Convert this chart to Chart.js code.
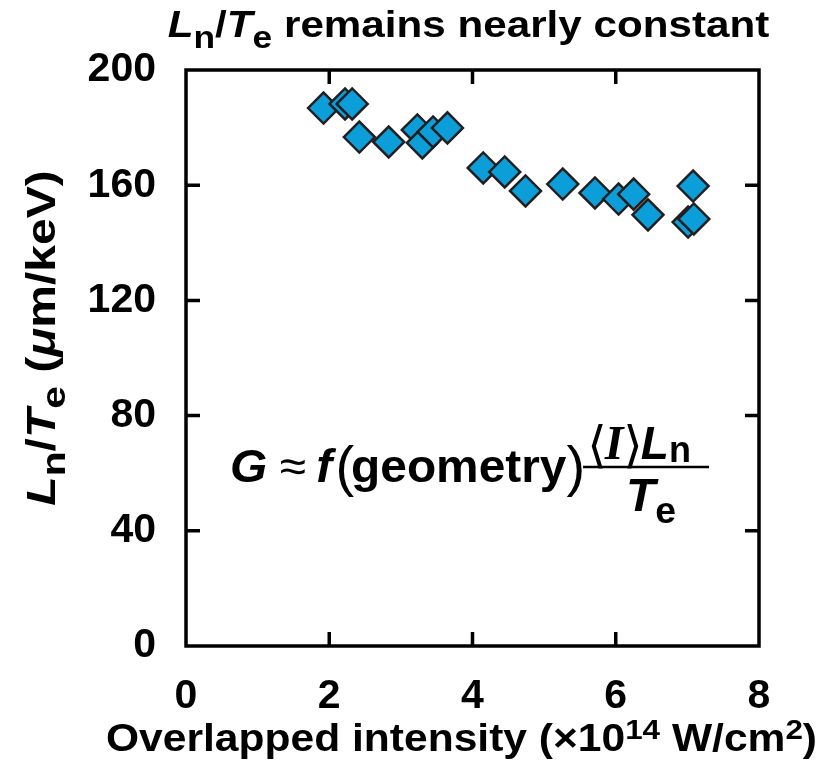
<!DOCTYPE html>
<html>
<head>
<meta charset="utf-8">
<script src="https://cdn.jsdelivr.net/npm/chart.js@4.4.1/dist/chart.umd.min.js"></script>
<style>
  body { margin: 0; background: #fff; }
  #wrap { width: 826px; height: 764px; }
</style>
</head>
<body>
<div id="wrap"><canvas id="chart" width="826" height="764"></canvas></div>
<script>
// overlapped intensity (x10^14 W/cm^2) and Ln/Te (um/keV)
const intensity = [1.92, 2.22, 2.32, 2.42, 2.83, 3.23, 3.30, 3.45, 3.65, 4.15, 4.45, 4.74, 5.26, 5.71, 6.04, 6.25, 6.45, 7.01, 7.09, 7.08];
const lnOverTe  = [186.8, 188.2, 188.2, 176.7, 175.0, 179.2, 174.7, 178.5, 179.9, 166.0, 164.6, 158.0, 160.4, 157.3, 155.2, 156.9, 149.7, 147.2, 148.3, 159.7];
const xRange = [0, 8], xStep = 2;
const yRange = [0, 200], yStep = 40;

const SANS = '"Liberation Sans", Arial, sans-serif';
const SERIF = '"Liberation Serif", "Times New Roman", serif';

// draws a row of [text, font, dy, extraGap] pieces
function drawRuns(ctx, runs, x, y, align, sx) {
    let w = 0;
    runs.forEach(r => { ctx.font = r[1]; w += ctx.measureText(r[0]).width + (r[3] || 0); });
    ctx.save();
    ctx.translate(x, y);
    ctx.scale(sx, 1);
    let cx = align === 'center' ? -w / 2 : (align === 'right' ? -w : 0);
    ctx.textBaseline = 'alphabetic';
    ctx.textAlign = 'left';
    runs.forEach(r => {
        ctx.font = r[1];
        ctx.fillText(r[0], cx, r[2] || 0);
        cx += ctx.measureText(r[0]).width + (r[3] || 0);
    });
    ctx.restore();
    return w * sx;
}

const decor = {
    id: 'decor',
    afterDraw(chart) {
        const ctx = chart.ctx, a = chart.chartArea;
        const xs = chart.scales.x, ys = chart.scales.y;
        ctx.save();
        ctx.fillStyle = '#000';
        ctx.strokeStyle = '#000';

        // frame + inward ticks
        ctx.lineWidth = 3.5;
        ctx.strokeRect(a.left, a.top, a.right - a.left, a.bottom - a.top);
        const tl = 14;
        ctx.beginPath();
        xs.ticks.forEach(t => {
            if (t.value <= xs.min || t.value >= xs.max) return;
            const px = xs.getPixelForValue(t.value);
            ctx.moveTo(px, a.bottom); ctx.lineTo(px, a.bottom - tl);
            ctx.moveTo(px, a.top); ctx.lineTo(px, a.top + tl);
        });
        ys.ticks.forEach(t => {
            if (t.value <= ys.min || t.value >= ys.max) return;
            const py = ys.getPixelForValue(t.value);
            ctx.moveTo(a.left, py); ctx.lineTo(a.left + tl, py);
            ctx.moveTo(a.right, py); ctx.lineTo(a.right - tl, py);
        });
        ctx.stroke();

        const b37 = 'bold 37px ' + SANS, bi37 = 'bold italic 37px ' + SANS, b31 = 'bold 31px ' + SANS;
        // title
        drawRuns(ctx, [
            ['L', bi37], ['n', b31, 11], ['/', b37], ['T', bi37], ['e', b31, 11],
            [' remains nearly constant', b37]
        ], (a.left + a.right) / 2 - 4, 37, 'center', 1.14);

        // x title
        const b38 = 'bold 38px ' + SANS, b28 = 'bold 28px ' + SANS;
        drawRuns(ctx, [
            ['Overlapped intensity (\u00d710', b38], ['14', b28, -12], [' W/cm', b38], ['2', b28, -12], [')', b38]
        ], (a.left + a.right) / 2 - 11, 751, 'center', 1.12);

        // y title
        const bi40 = 'bold italic 40px ' + SANS, b40 = 'bold 40px ' + SANS, b34 = 'bold 34px ' + SANS;
        ctx.save();
        ctx.translate(55, (a.top + a.bottom) / 2 - 20);
        ctx.rotate(-Math.PI / 2);
        drawRuns(ctx, [
            ['L', bi40], ['n', b34, 10], ['/', b40], ['T', bi40], ['e', b34, 10],
            [' (', b40], ['\u03bc', bi40], ['m/keV)', b40]
        ], 0, 0, 'center', 1.2);
        ctx.restore();

        // formula G ~ f(geometry) <I> Ln / Te
        const F = 46, fsx = 1.04;
        const bi = 'bold italic ' + F + 'px ' + SANS, bo = 'bold ' + F + 'px ' + SANS;
        const thin = 'normal ' + F + 'px ' + SANS, paren = 'normal 56px ' + SANS;
        const fx = a.left + 44, fy = a.top + 412;
        let cx = fx;
        cx += drawRuns(ctx, [['G', bi, 0, 12], ['\u2248', thin, 0, 10], ['f', bi, 0, 3]], cx, fy, 'left', fsx);
        cx += drawRuns(ctx, [['(', paren, 3, -3]], cx, fy, 'left', 1);
        cx += drawRuns(ctx, [['geometry', bo]], cx, fy, 'left', fsx);
        cx += drawRuns(ctx, [[')', paren, 3, -4]], cx, fy, 'left', 1);
        const barL = cx + 2, barR = cx + 128, barY = fy - 15;
        ctx.lineWidth = 2.5;
        ctx.beginPath(); ctx.moveTo(barL, barY); ctx.lineTo(barR, barY); ctx.stroke();
        const mid = (barL + barR) / 2;
        const ang = 'normal 50px "DejaVu Sans", ' + SANS;
        drawRuns(ctx, [
            ['\u27e8', ang, 3, -2], ['I', 'bold italic 48px ' + SERIF, 0, 0], ['\u27e9', ang, 3, -2],
            ['L', bi], ['n', 'bold 36px ' + SANS, 3]
        ], mid - 7, barY - 8, 'center', 1);
        drawRuns(ctx, [['T', bi], ['e', 'bold 36px ' + SANS, 12]], mid + 5, barY + 44, 'center', fsx);
        ctx.restore();
    }
};

const points = intensity.map((x, i) => ({ x: x, y: lnOverTe[i] }));

new Chart(document.getElementById('chart'), {
    type: 'scatter',
    data: {
        datasets: [{
            data: points,
            pointStyle: 'rectRot',
            pointRadius: 15.5,
            pointHoverRadius: 15.5,
            backgroundColor: '#0b9ed8',
            borderColor: '#231f20',
            borderWidth: 2.5
        }]
    },
    options: {
        responsive: false,
        animation: false,
        layout: { padding: { top: 70, right: 67, bottom: 0, left: 0 } },
        plugins: { legend: { display: false }, tooltip: { enabled: false } },
        scales: {
            x: {
                type: 'linear',
                min: xRange[0], max: xRange[1],
                grid: { display: false },
                border: { display: false },
                ticks: { stepSize: xStep, padding: 18, color: '#000', font: { family: SANS, size: 41, weight: 'bold' } },
                afterFit(scale) { scale.height = 118; }
            },
            y: {
                type: 'linear',
                min: yRange[0], max: yRange[1],
                grid: { display: false },
                border: { display: false },
                ticks: { stepSize: yStep, padding: 22, color: '#000', font: { family: SANS, size: 41, weight: 'bold' } },
                afterFit(scale) { scale.width = 186; }
            }
        }
    },
    plugins: [decor]
});
</script>
</body>
</html>
